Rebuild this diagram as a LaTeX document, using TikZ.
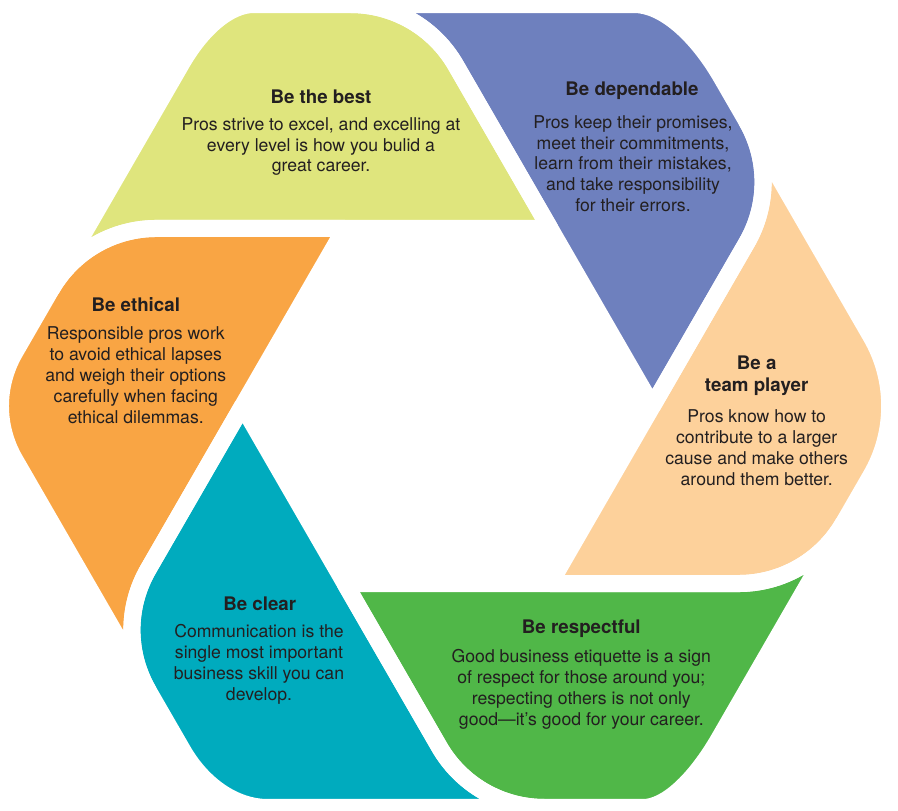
\documentclass[tikz,border=0pt]{standalone}
\usepackage{fontspec}
\setmainfont{TeX Gyre Heros}
\usetikzlibrary{calc}
\definecolor{cyellow}{RGB}{223,229,125}
\definecolor{cblue}{RGB}{110,128,190}
\definecolor{cpeach}{RGB}{253,209,155}
\definecolor{cgreen}{RGB}{80,183,72}
\definecolor{cteal}{RGB}{0,171,190}
\definecolor{corange}{RGB}{249,165,68}
\definecolor{ctext}{RGB}{35,31,32}
\tikzset{
  head/.style={font=\bfseries\fontsize{18.8}{21.7}\selectfont, text=ctext, align=center, inner sep=0pt},
  body/.style={font=\fontsize{17.7}{21}\selectfont, text=ctext, align=center, inner sep=0pt},
  gap/.style={draw=white, line width=17bp, line join=round}
}
\begin{document}
\begin{tikzpicture}[x=1bp,y=1bp]
\useasboundingbox (-447.5,-405) rectangle (450.5,406);
% geometry of the six pieces (pinwheel around the central hexagon)
\foreach \k/\phi/\tS/\tQ in {0/0/68bp/38bp, 1/-60/45bp/85bp, 2/-120/80bp/80bp, 3/-180/80bp/36bp, 4/-240/52bp/66bp, 5/-300/62bp/62bp}{
  \coordinate (v\k) at (60+\phi:205);
  \coordinate (O\k) at (120+\phi:463.6);
  \coordinate (Q\k) at (93.82+\phi:402.4);
  \coordinate (S\k) at (153.82+\phi:402.4);
  \coordinate (Ta\k) at ($(Q\k)!70bp!(v\k)$);
  \coordinate (Tb\k) at ($(Q\k)!70bp!(O\k)$);
  \coordinate (Ca\k) at ($(Ta\k)!0.62!(Q\k)$);
  \coordinate (Cb\k) at ($(Tb\k)!0.62!(Q\k)$);
  \coordinate (Oa\k) at ($(O\k)!\tS!(S\k)$);
  \coordinate (Ob\k) at ($(O\k)!\tQ!(Q\k)$);
  \coordinate (Oca\k) at ($(Oa\k)!0.62!(O\k)$);
  \coordinate (Ocb\k) at ($(Ob\k)!0.62!(O\k)$);
}
\foreach \k/\p/\col in {0/5/cyellow,1/0/cblue,2/1/cpeach,3/2/cgreen,4/3/cteal,5/4/corange}{
  \fill[\col] (v\k) -- (Ta\p) .. controls (Ca\p) and (Cb\p) .. (Tb\p) -- (Oa\k)
     .. controls (Oca\k) and (Ocb\k) .. (Ob\k) -- (Tb\k)
     .. controls (Cb\k) and (Ca\k) .. (Ta\k) -- cycle;
}
\foreach \k/\p in {0/5,1/0,2/1,3/2,4/3,5/4}{
  \draw[gap] (v\k) -- (Ta\p) .. controls (Ca\p) and (Cb\p) .. (Tb\p) -- (Oa\k)
     .. controls (Oca\k) and (Ocb\k) .. (Ob\k) -- (Tb\k)
     .. controls (Cb\k) and (Ca\k) .. (Ta\k) -- cycle;
}
% texts
\node[head] (h0) at (-126.5,309) {Be the best};
\node[body] (b0) at (-126.5,259.5) {Pros strive to excel, and excelling at\\every level is how you bulid a\\great career.};
\node[head] (h1) at (184.5,315.3) {Be dependable};
\node[body] (b1) at (185.5,242.3) {Pros keep their promises,\\meet their commitments,\\learn from their mistakes,\\and take responsibility\\for their errors.};
\node[head] (h2) at (309.2,30.1) {Be a\\team player};
\node[body] (b2) at (309.2,-42) {Pros know how to\\contribute to a larger\\cause and make others\\around them better.};
\node[head] (h3) at (133.8,-222.3) {Be respectful};
\node[body] (b3) at (133.8,-283.2) {Good business etiquette is a sign\\of respect for those around you;\\respecting others is not only\\good—it’s good for your career.};
\node[head] (h4) at (-187.8,-198) {Be clear};
\node[body] (b4) at (-188.5,-258.2) {Communication is the\\single most important\\business skill you can\\develop.};
\node[head] (h5) at (-311.7,101) {Be ethical};
\node[body] (b5) at (-311.7,30.8) {Responsible pros work\\to avoid ethical lapses\\and weigh their options\\carefully when facing\\ethical dilemmas.};
\end{tikzpicture}
\end{document}
